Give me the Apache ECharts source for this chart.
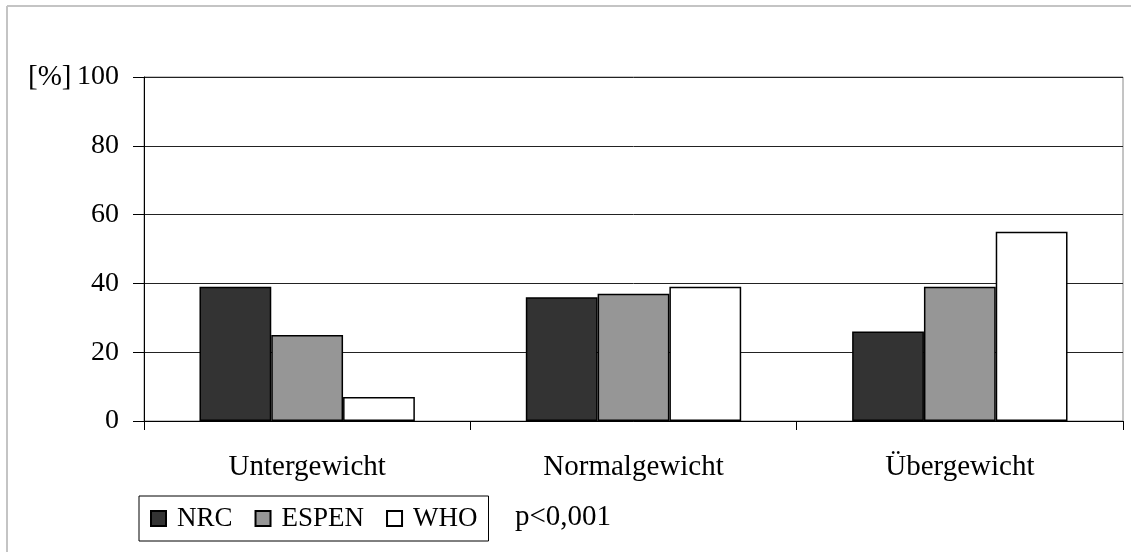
<!DOCTYPE html>
<html>
<head>
<meta charset="utf-8">
<script src="https://cdn.jsdelivr.net/npm/echarts@6/dist/echarts.min.js"></script>
<style>
  html, body { margin: 0; padding: 0; background: #fff; }
  #chart { width: 1131px; height: 552px; }
</style>
</head>
<body>
<div id="chart"></div>
<script>
// Gewichtsklassen nach drei Referenzsystemen (Anteile in %)
const categories = ['Untergewicht', 'Normalgewicht', 'Übergewicht'];
const nrc   = [39, 36, 26];
const espen = [25, 37, 39];
const who   = [7, 39, 55];
const yTicks = { min: 0, max: 100, interval: 20 };
const unitLabel = '[%]';
const pValue = 'p<0,001';

const FONT = '"Liberation Serif", "Times New Roman", serif';

const chart = echarts.init(document.getElementById('chart'), null, { renderer: 'canvas' });

function barSeries(name, data, color) {
  return {
    name: name,
    type: 'bar',
    data: data,
    barGap: '0%',
    barCategoryGap: '34%',
    itemStyle: { color: color, borderColor: '#000', borderWidth: 1.5 },
    emphasis: { disabled: true }
  };
}

chart.setOption({
  animation: false,
  backgroundColor: '#fff',
  grid: {
    left: 144, top: 77, right: 8, bottom: 131,
    show: true, borderColor: '#8a8a8a', borderWidth: 1, backgroundColor: 'transparent'
  },
  xAxis: {
    type: 'category',
    data: categories,
    axisLine: { lineStyle: { color: '#000', width: 1 } },
    axisTick: { show: true, length: 9, inside: false, alignWithLabel: false, lineStyle: { color: '#000' } },
    axisLabel: { color: '#000', fontFamily: FONT, fontSize: 29, margin: 32 },
    splitLine: { show: false }
  },
  yAxis: {
    type: 'value',
    min: yTicks.min, max: yTicks.max, interval: yTicks.interval,
    axisLine: { show: true, lineStyle: { color: '#000', width: 1 } },
    axisTick: { show: true, length: 11, lineStyle: { color: '#000' } },
    axisLabel: { color: '#000', fontFamily: FONT, fontSize: 28, margin: 25 },
    splitLine: { show: true, lineStyle: { color: '#222', width: 1 } }
  },
  legend: {
    left: 139, top: 496,
    orient: 'horizontal',
    padding: [9, 11, 9, 11],
    itemGap: 22,
    itemWidth: 15, itemHeight: 15,
    icon: 'rect',
    borderColor: '#000', borderWidth: 1,
    backgroundColor: '#fff',
    selectedMode: false,
    textStyle: { color: '#000', fontFamily: FONT, fontSize: 27, padding: [0, 0, 0, 6] },
    data: ['NRC', 'ESPEN', 'WHO']
  },
  graphic: [
    { type: 'line', shape: { x1: 7, y1: 6, x2: 7, y2: 552 }, style: { stroke: '#c4c4c4', lineWidth: 2 }, silent: true },
    { type: 'line', shape: { x1: 7, y1: 6, x2: 1131, y2: 6 }, style: { stroke: '#c4c4c4', lineWidth: 2 }, silent: true },
    { type: 'text', left: 28, top: 63, style: { text: unitLabel, font: '29px ' + FONT, fill: '#000' }, silent: true },
    { type: 'text', left: 515, top: 503, style: { text: pValue, font: '29px ' + FONT, fill: '#000' }, silent: true }
  ],
  series: [
    barSeries('NRC', nrc, '#333333'),
    barSeries('ESPEN', espen, '#969696'),
    barSeries('WHO', who, '#ffffff')
  ]
});
</script>
</body>
</html>
